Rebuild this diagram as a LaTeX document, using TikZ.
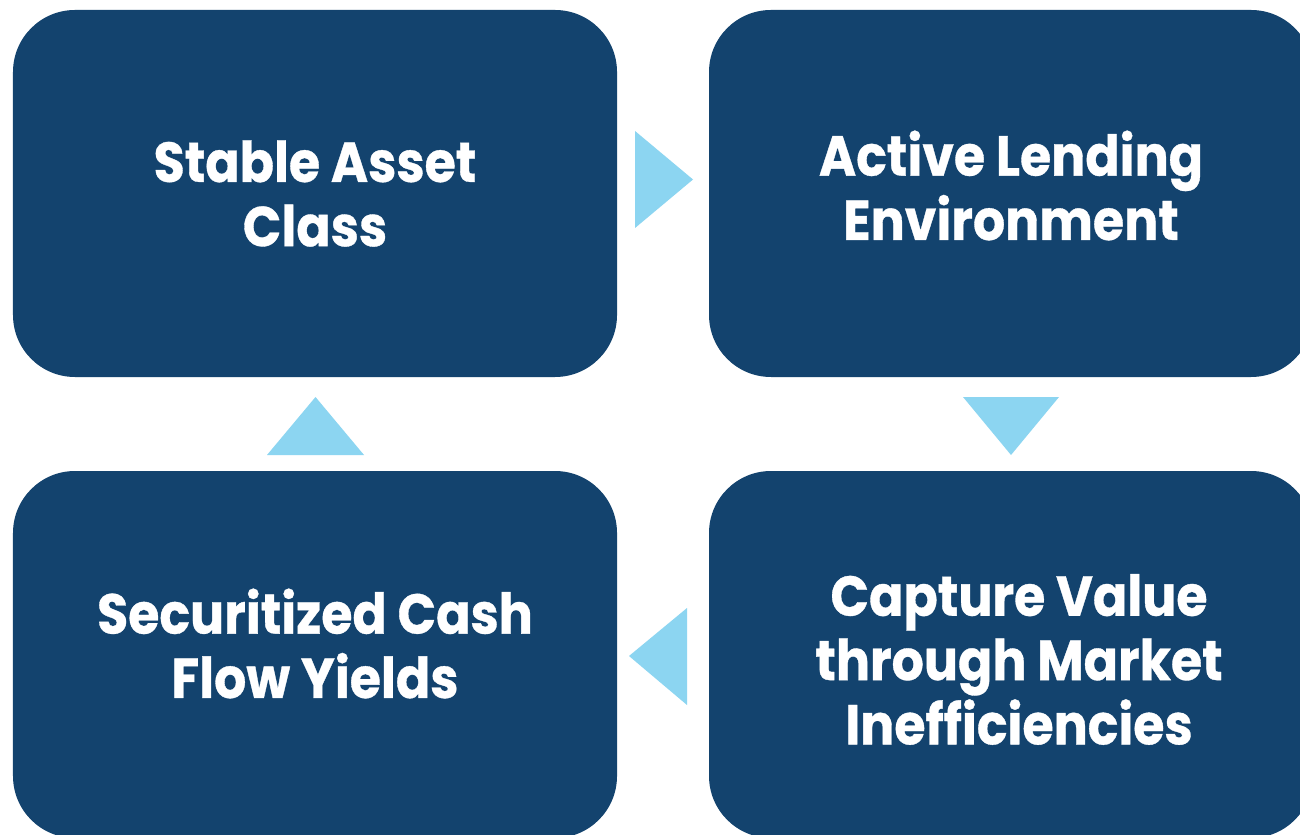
\documentclass[tikz,border=0pt]{standalone}
\usepackage{fontspec}
\setmainfont{Poppins}[BoldFeatures={FakeStretch=0.9,FakeBold=0.6}]
\usepackage{tikz}
\definecolor{boxblue}{HTML}{13436E}
\definecolor{triblue}{HTML}{8CD5F1}

\begin{document}
\begin{tikzpicture}[
        box/.style={rectangle,fill=boxblue,rounded corners=0.62cm,minimum width=6.04cm,minimum height=3.67cm},
        boxtext/.style={text=white,align=center,font=\fontsize{16}{18.3}\selectfont\bfseries},
        tri/.style={fill=triblue}
    ]
        % 画布
        \clip (0,0) rectangle (13,8.34);
        \fill[white] (0,0) rectangle (13,8.34);

        % 添加四个方框
        \node[box] (stable) at (3.15,6.405) {};
        \node[box] (lending) at (10.11,6.405) {};
        \node[box] (capture) at (10.11,1.795) {};
        \node[box] (yields) at (3.15,1.795) {};

        % 添加方框文字
        \node[boxtext] (stabletext) at (stable.center) {Stable Asset\\Class};
        \node[boxtext] (lendingtext) at ([yshift=0.08cm]lending.center) {Active Lending\\Environment};
        \node[boxtext] (capturetext) at ([xshift=0.08cm,yshift=-0.05cm]capture.center) {Capture Value\\through Market\\Inefficiencies};
        \node[boxtext] (yieldstext) at ([yshift=0.11cm]yields.center) {Securitized Cash\\Flow Yields};

        % 添加三角箭头
        \fill[tri] (6.35,7.03) -- (6.93,6.545) -- (6.35,6.06) -- cycle;
        \fill[tri] (9.63,4.37) -- (10.11,3.79) -- (10.59,4.37) -- cycle;
        \fill[tri] (6.87,2.26) -- (6.29,1.78) -- (6.87,1.29) -- cycle;
        \fill[tri] (2.67,3.79) -- (3.155,4.37) -- (3.64,3.79) -- cycle;
    \end{tikzpicture}
\end{document}
